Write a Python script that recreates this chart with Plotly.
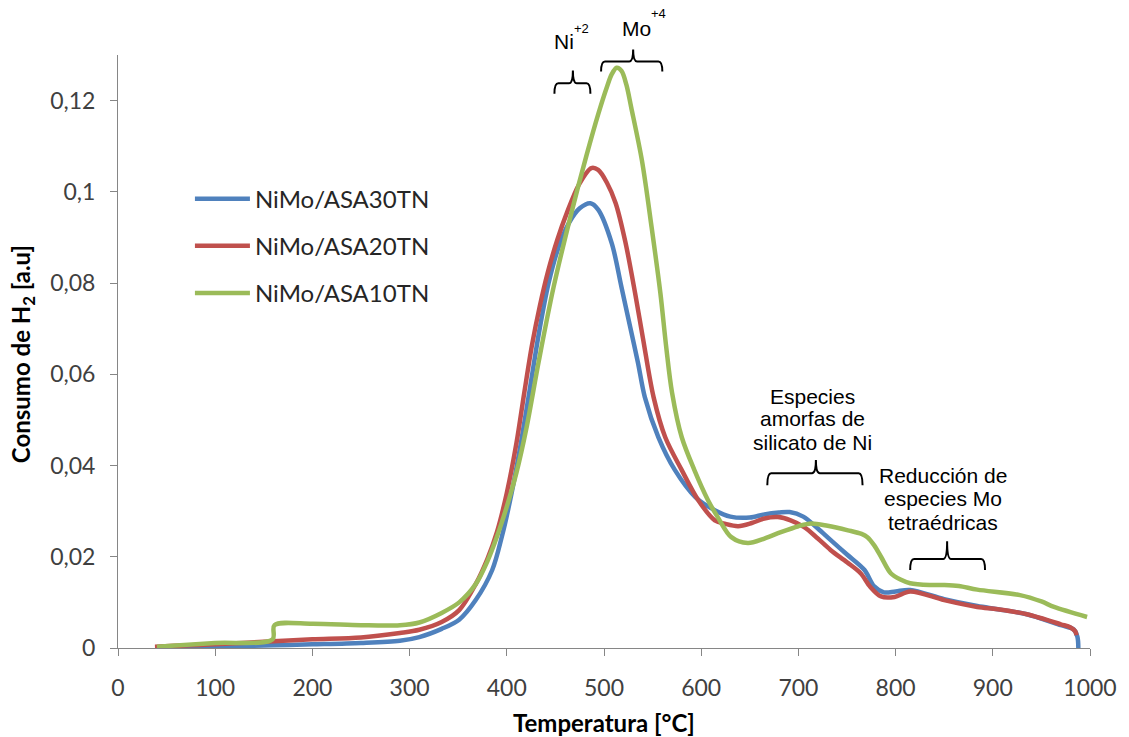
import plotly.graph_objects as go

# ---------------- data ----------------
t_asa30 = [43, 100, 160, 200, 250, 290, 310, 333, 351, 368, 385, 395, 405, 415, 425, 433, 443, 453, 464, 475,
           486, 494, 508, 518, 527, 535, 542, 556, 573, 594, 614, 630, 650, 665, 680, 691, 705, 720, 733, 750,
           768, 778, 788, 800, 815, 850, 884, 905, 935, 970, 983, 987, 988]
v_asa30 = [0.0000, 0.0003, 0.0006, 0.0008, 0.0011, 0.0016, 0.0024, 0.0042, 0.0062, 0.0105, 0.0171, 0.0245,
           0.0340, 0.0455, 0.0585, 0.0690, 0.0800, 0.0877, 0.0932, 0.0964, 0.0975, 0.0961, 0.0887, 0.0791,
           0.0703, 0.0625, 0.0550, 0.0462, 0.0390, 0.0331, 0.0302, 0.0288, 0.0286, 0.0293, 0.0297, 0.0298,
           0.0288, 0.0262, 0.0237, 0.0205, 0.0171, 0.0135, 0.0122, 0.0124, 0.0127, 0.0107, 0.0092, 0.0085,
           0.0074, 0.0050, 0.0041, 0.0025, 0.0000]

t_asa20 = [38, 100, 160, 200, 250, 290, 310, 333, 351, 368, 380, 390, 400, 410, 418, 426, 434, 442, 452, 462,
           474, 487, 494, 503, 512, 522, 532, 540, 551, 563, 580, 597, 614, 625, 638, 652, 665, 679, 692, 706,
           720, 733, 750, 764, 774, 785, 799, 815, 850, 884, 905, 935, 970, 980, 985, 986]
v_asa20 = [0.0003, 0.0008, 0.0015, 0.0019, 0.0023, 0.0033, 0.0040, 0.0057, 0.0083, 0.0140, 0.0195, 0.0255,
           0.0340, 0.0450, 0.0560, 0.0665, 0.0750, 0.0822, 0.0895, 0.0955, 0.1015, 0.1052, 0.1048, 0.1020,
           0.0975, 0.0890, 0.0778, 0.0680, 0.0550, 0.0462, 0.0390, 0.0324, 0.0280, 0.0272, 0.0267, 0.0274,
           0.0284, 0.0287, 0.0280, 0.0265, 0.0240, 0.0215, 0.0188, 0.0164, 0.0134, 0.0113, 0.0112, 0.0124,
           0.0105, 0.0090, 0.0085, 0.0074, 0.0052, 0.0045, 0.0036, 0.0028]

t_asa10 = [40, 100, 159, 161, 200, 250, 290, 310, 333, 351, 368, 380, 390, 400, 410, 420, 433, 448, 466, 482,
           494, 503, 508, 513, 518, 523, 528, 539, 549, 558, 564, 570, 580, 593, 607, 617, 631, 648, 665, 682,
           700, 713, 730, 751, 765, 771, 778, 785, 795, 805, 815, 835, 850, 865, 884, 928, 950, 963, 997]
v_asa10 = [0.0003, 0.0011, 0.0019, 0.0050, 0.0053, 0.0050, 0.0050, 0.0056, 0.0077, 0.0100, 0.0140, 0.0190,
           0.0245, 0.0310, 0.0385, 0.0480, 0.0630, 0.0790, 0.0950, 0.1080, 0.1170, 0.1230, 0.1258, 0.1272,
           0.1265, 0.1235, 0.1185, 0.1069, 0.0922, 0.0778, 0.0660, 0.0560, 0.0462, 0.0390, 0.0324, 0.0287,
           0.0243, 0.0230, 0.0240, 0.0254, 0.0267, 0.0273, 0.0268, 0.0258, 0.0250, 0.0243, 0.0225, 0.0200,
           0.0164, 0.0150, 0.0142, 0.0138, 0.0138, 0.0136, 0.0128, 0.0116, 0.0102, 0.0090, 0.0068]

series_names = ["NiMo/ASA30TN", "NiMo/ASA20TN", "NiMo/ASA10TN"]
series_colors = ["#4F81BD", "#C0504D", "#9BBB59"]

x_ticks = [0, 100, 200, 300, 400, 500, 600, 700, 800, 900, 1000]
y_ticks = [0, 0.02, 0.04, 0.06, 0.08, 0.10, 0.12]
y_tick_text = ["0", "0,02", "0,04", "0,06", "0,08", "0,1", "0,12"]

X_MAX = 1000
Y_MAX = 0.13

# ---------------- figure ----------------
fig = go.Figure()
for i, (t, v) in enumerate([(t_asa30, v_asa30), (t_asa20, v_asa20), (t_asa10, v_asa10)]):
    fig.add_trace(go.Scatter(
        x=t, y=v, mode="lines", name=series_names[i], legendgroup=f"g{i}",
        line=dict(color=series_colors[i], width=4.5, shape="spline", smoothing=0.9),
    ))

AX = "#868686"
TICKFONT = dict(family="Lato", size=23, color="#404040")

fig.update_layout(
    width=1129, height=737,
    margin=dict(l=118, r=36, t=55, b=89),
    paper_bgcolor="white", plot_bgcolor="white",
    showlegend=True,
    legend=dict(x=0.074, y=0.795, xanchor="left", yanchor="top",
                font=dict(family="Lato", size=24, color="#262626"),
                bgcolor="rgba(0,0,0,0)", tracegroupgap=13, itemwidth=55),
    xaxis=dict(range=[0, X_MAX], tickvals=x_ticks, ticks="outside", ticklen=7, tickcolor=AX,
               showline=True, linecolor=AX, linewidth=1, showgrid=False, zeroline=False,
               tickfont=TICKFONT, ticklabelstandoff=12),
    yaxis=dict(range=[0, Y_MAX], tickvals=y_ticks, ticktext=y_tick_text, ticks="outside", ticklen=7,
               tickcolor=AX, showline=True, linecolor=AX, linewidth=1, showgrid=False, zeroline=False,
               tickfont=TICKFONT, ticklabelstandoff=10),
)

# axis titles
fig.add_annotation(text="<b>Temperatura [°C]</b>", xref="paper", yref="paper", x=0.5, y=-0.125,
                   xanchor="center", yanchor="middle", showarrow=False,
                   font=dict(family="Lato", size=24, color="#000000"))
fig.add_annotation(text="<b>Consumo de H<sub>2</sub> [a.u]</b>", xref="paper", yref="paper", x=-0.098, y=0.495,
                   xanchor="center", yanchor="middle", showarrow=False, textangle=-90,
                   font=dict(family="Lato", size=24, color="#000000"))

# text labels (y given as axis value, converted to paper fraction through the axis range)
ANN = dict(family="Liberation Sans", color="#000000")
labels = [
    ("Ni", 459, 0.1330, 21), ("+2", 477, 0.1359, 13),
    ("Mo", 533, 0.1359, 21), ("+4", 556, 0.1390, 13),
    ("Especies", 714, 0.0551, 21), ("amorfas de", 714, 0.0503, 21), ("silicato de Ni", 714, 0.0450, 21),
    ("Reducción de", 849, 0.0379, 21), ("especies Mo", 849, 0.0327, 21), ("tetraédricas", 849, 0.0276, 21),
]
for txt, x, y, s in labels:
    fig.add_annotation(text=txt, x=x, y=y / Y_MAX, xref="x", yref="paper", showarrow=False,
                       xanchor="center", yanchor="middle", font=dict(size=s, **ANN))

# curly braces (x in data units, y as axis value converted to paper fraction)
def brace(xl, xr, xt, yh, yend, ytip):
    p = lambda v: v / Y_MAX
    rx = 4
    path = (f"M{xl},{p(yend)} Q{xl},{p(yh)} {xl+rx},{p(yh)} L{xt-rx},{p(yh)} "
            f"Q{xt},{p(yh)} {xt},{p(ytip)} Q{xt},{p(yh)} {xt+rx},{p(yh)} "
            f"L{xr-rx},{p(yh)} Q{xr},{p(yh)} {xr},{p(yend)}")
    fig.add_shape(type="path", path=path, xref="x", yref="paper",
                  line=dict(color="black", width=2))

brace(449, 486, 468, 0.1238, 0.1215, 0.1266)
brace(497, 560, 530, 0.1286, 0.1264, 0.1312)
brace(668, 766, 718, 0.0383, 0.0357, 0.0412)
brace(815, 892, 853, 0.0195, 0.0171, 0.0234)

fig.write_html("out.html", config={"displayModeBar": False},
               post_script="document.body.style.margin='0px';")
